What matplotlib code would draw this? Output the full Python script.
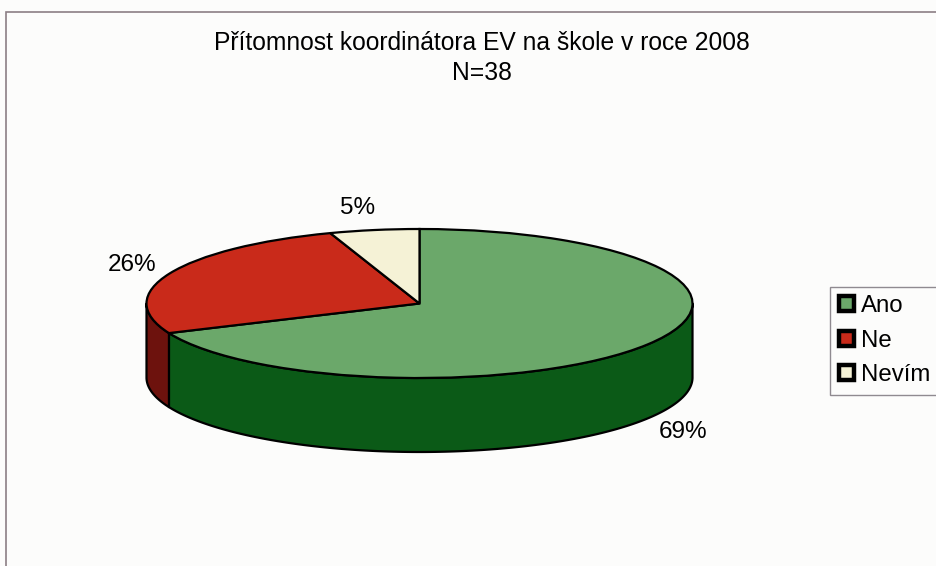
import numpy as np
import matplotlib
matplotlib.use("Agg")
import matplotlib.pyplot as plt
from matplotlib.patches import Patch, Polygon, Rectangle

categories = ["Ano", "Ne", "Nevím"]
values = [68.5, 26.2, 5.3]
value_labels = ["69%", "26%", "5%"]
title_lines = ["Přítomnost koordinátora EV na škole v roce 2008", "N=38"]

top_colors = ["#6ba86a", "#c92a1a", "#f5f2d6"]
side_colors = ["#0b5a17", "#6d120d", "#c9c6a8"]

W, H = 937, 566
CX, CY, RX, RY, DEPTH = 419.5, 303.5, 273, 74.5, 74
plt.rcParams["font.family"] = ["Liberation Sans", "DejaVu Sans"]
BG = "#fcfcfb"

fig = plt.figure(figsize=(W / 100, H / 100), dpi=100, facecolor=BG)
ax = fig.add_axes([0, 0, 1, 1])
wedges, _ = ax.pie(values, colors=top_colors, startangle=90, counterclock=False,
                   radius=1, wedgeprops=dict(edgecolor="black", linewidth=1.6, zorder=5),
                   normalize=True)
ax.set_aspect("auto")
ax.set_xlim(-CX / RX, (W - CX) / RX)
ax.set_ylim(-(H - CY) / RY, CY / RY)
ax.axis("off")

# side wall of the disc: visible lower half, cut at the slice boundaries
depth = DEPTH / RY
start = 90.0
for v, col in zip(values, side_colors):
    end = start - 360.0 * v / sum(values)
    lo, hi = max(end, -180.0), min(start, 0.0)
    if lo < hi:
        t = np.radians(np.linspace(lo, hi, 160))
        x, y = np.cos(t), np.sin(t)
        pts = np.r_[np.c_[x, y], np.c_[x[::-1], y[::-1] - depth]]
        ax.add_patch(Polygon(pts, closed=True, facecolor=col, edgecolor="black",
                             linewidth=1.6, zorder=3, joinstyle="round"))
    start = end

def fx(px): return px / W
def fy(py): return 1 - py / H

label_pos = [(683, 432), (132, 265), (358, 208)]
for lab, (px, py) in zip(value_labels, label_pos):
    fig.text(fx(px), fy(py), lab, ha="center", va="center", fontsize=17.5, color="black", zorder=10)

for line, py in zip(title_lines, (43, 73)):
    fig.text(fx(482), fy(py), line, ha="center", va="center", fontsize=17.7, color="black")

# outer frame of the chart, running off the right and bottom of the picture
fig.add_artist(Rectangle((fx(6.5), -0.1), 2, 0.1 + (566 - 12) / H, transform=fig.transFigure,
                         facecolor="none", edgecolor="#8c7f85", linewidth=1.2))

handles = [Patch(facecolor=c, edgecolor="black", linewidth=3.2) for c in top_colors]
leg = ax.legend(handles, categories, loc="upper left",
                bbox_to_anchor=(fx(830.5), fy(286.5)), bbox_transform=fig.transFigure,
                fontsize=17.3, frameon=True, fancybox=False, borderaxespad=0,
                handlelength=0.6, handleheight=0.6, handletextpad=0.32,
                labelspacing=0.52, borderpad=0.36)
leg.get_frame().set_edgecolor("#8f8a90")
leg.get_frame().set_facecolor(BG)
leg.get_frame().set_linewidth(1.0)
leg.get_frame().set_alpha(1)

fig.savefig("out.png", dpi=100, facecolor=BG)
